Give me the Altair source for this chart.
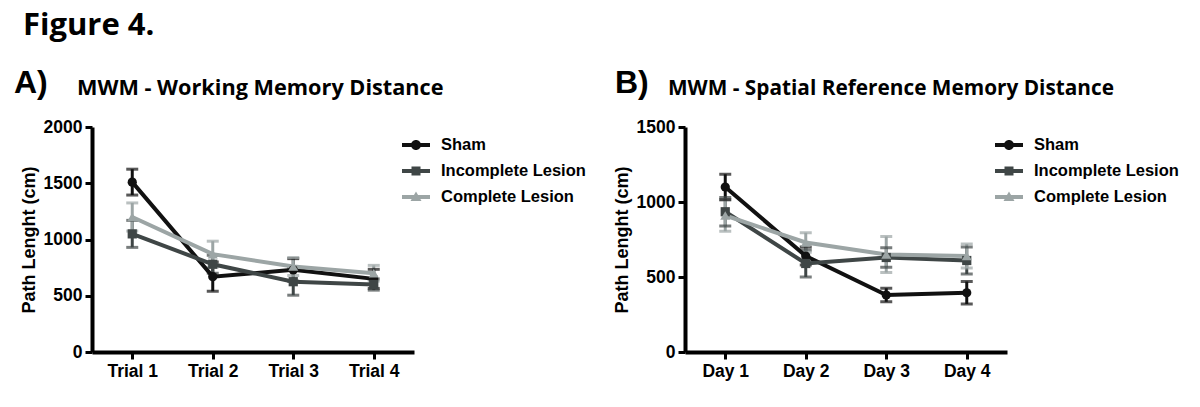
import altair as alt
import pandas as pd

series = ["Sham", "Incomplete Lesion", "Complete Lesion"]
colors = ["#111111", "#3f4646", "#9ca5a5"]

# Panel A - Working memory distance
trials = ["Trial 1", "Trial 2", "Trial 3", "Trial 4"]
wm_sham = [1510, 670, 730, 650]
wm_sham_sem = [115, 130, 100, 85]
wm_incomplete = [1050, 780, 625, 600]
wm_incomplete_sem = [120, 80, 120, 50]
wm_complete = [1200, 870, 760, 700]
wm_complete_sem = [125, 115, 80, 70]

# Panel B - Spatial reference memory distance
days = ["Day 1", "Day 2", "Day 3", "Day 4"]
srm_sham = [1100, 640, 380, 395]
srm_sham_sem = [85, 60, 45, 75]
srm_incomplete = [935, 590, 630, 610]
srm_incomplete_sem = [95, 90, 65, 90]
srm_complete = [910, 730, 650, 640]
srm_complete_sem = [105, 65, 120, 80]

wm_ticks = [0, 500, 1000, 1500, 2000]
srm_ticks = [0, 500, 1000, 1500]

# legend glyphs: line stub + marker (custom SVG paths)
legend_paths = [
    "M-1.4,-0.2H1.4V0.2H-1.4Z M0.5,0 A0.5,0.5 0 1,1 -0.5,0 A0.5,0.5 0 1,1 0.5,0Z",
    "M-1.4,-0.2H1.4V0.2H-1.4Z M-0.45,-0.45H0.45V0.45H-0.45Z",
    "M-1.4,-0.2H1.4V0.2H-1.4Z M0,-0.55L0.55,0.4H-0.55Z",
]


def build_df(cats, groups):
    rows = []
    for name, (means, sems) in zip(series, groups):
        for c, m, s in zip(cats, means, sems):
            rows.append({"x": c, "series": name, "mean": m, "lo": m - s, "hi": m + s})
    return pd.DataFrame(rows)


LABEL_FONT = "Liberation Sans"
TITLE_FONT = "Open Sans"

# drawing scales (different domain order than the legend scales, so their
# hidden legends do not merge with the visible one)
draw_domain = list(reversed(series))
draw_range = list(reversed(colors))


def panel(df, cats, ymax, yticks, title, letter, letter_x, title_x, title_size):
    base = alt.Chart(df)
    xenc = alt.X(
        "x:N",
        sort=cats,
        scale=alt.Scale(type="point", padding=0.5),
        axis=alt.Axis(title=None, labelAngle=0),
    )
    yscale = alt.Scale(domain=[0, ymax], nice=False, zero=True)
    yaxis = alt.Axis(title="Path Lenght (cm)", values=yticks, format="d", titlePadding=5)

    def Y(field):
        return alt.Y(field, scale=yscale, axis=yaxis)

    sscale = alt.Scale(domain=draw_domain, range=draw_range)
    stroke = alt.Stroke("series:N", scale=sscale, legend=None)
    fill = alt.Fill("series:N", scale=sscale, legend=None)

    rules = base.mark_rule(strokeWidth=3).encode(x=xenc, y=Y("lo:Q"), y2="hi:Q", stroke=stroke)
    cap_hi = base.mark_tick(size=12, thickness=3).encode(x=xenc, y=Y("hi:Q"), fill=fill)
    cap_lo = base.mark_tick(size=12, thickness=3).encode(x=xenc, y=Y("lo:Q"), fill=fill)
    line = base.mark_line(strokeWidth=4).encode(x=xenc, y=Y("mean:Q"), stroke=stroke)

    shapes = ["circle", "square", "triangle-up"]
    sizes = [85, 85, 100]
    pts = []
    for name, shp, sz in zip(series, shapes, sizes):
        pts.append(
            base.mark_point(filled=True, shape=shp, size=sz, strokeWidth=0).encode(
                x=xenc,
                y=Y("mean:Q"),
                fill=fill,
                opacity=alt.condition(f"datum.series == '{name}'", alt.value(1), alt.value(0)),
            )
        )

    leg = alt.Legend(
        title=None,
        orient="none",
        legendX=314,
        legendY=8,
        symbolSize=400,
        symbolStrokeWidth=0,
        symbolOpacity=1,
        labelFont=LABEL_FONT,
        labelFontWeight="bold",
        labelFontSize=16.5,
        labelColor="black",
        labelOffset=15,
        labelLimit=400,
        rowPadding=7,
        padding=0,
    )
    legend_layer = base.mark_point(filled=True, opacity=0, size=400).encode(
        x=xenc,
        y=Y("mean:Q"),
        color=alt.Color("series:N", scale=alt.Scale(domain=series, range=colors), legend=leg),
        shape=alt.Shape("series:N", scale=alt.Scale(domain=series, range=legend_paths), legend=leg),
    )

    labels = alt.Chart(pd.DataFrame({"letter": [letter], "title": [title]}))
    letter_layer = labels.mark_text(
        align="left", baseline="middle", font=LABEL_FONT, fontWeight="bold", fontSize=32, color="black"
    ).encode(text="letter:N", x=alt.value(letter_x), y=alt.value(-44))
    title_layer = labels.mark_text(
        align="left", baseline="alphabetic", font=TITLE_FONT, fontWeight="bold", fontSize=title_size, color="black"
    ).encode(text="title:N", x=alt.value(title_x), y=alt.value(-32))

    return alt.layer(
        rules, cap_hi, cap_lo, line, *pts, legend_layer, letter_layer, title_layer
    ).properties(width=322, height=225)


dfA = build_df(trials, [(wm_sham, wm_sham_sem), (wm_incomplete, wm_incomplete_sem), (wm_complete, wm_complete_sem)])
dfB = build_df(days, [(srm_sham, srm_sham_sem), (srm_incomplete, srm_incomplete_sem), (srm_complete, srm_complete_sem)])

chartA = panel(dfA, trials, 2000, wm_ticks, "MWM - Working Memory Distance", "A)", -78, -15, 21.7)
chartB = panel(dfB, days, 1500, srm_ticks, "MWM - Spatial Reference Memory Distance", "B)", -70, -17, 20.8)

chart = (
    alt.hconcat(chartA, chartB, spacing=27)
    .resolve_scale(color="independent", shape="independent", fill="independent", stroke="independent")
    .properties(
        title=alt.TitleParams(
            "Figure 4.",
            anchor="start",
            font=TITLE_FONT,
            fontSize=31,
            fontWeight="bold",
            color="black",
            baseline="alphabetic",
            dx=9,
            offset=1,
        ),
        padding={"left": 6, "top": 2, "right": 5, "bottom": 5},
        background="white",
    )
    .configure_view(stroke=None)
    .configure_axis(
        grid=False,
        domainColor="black",
        domainWidth=4,
        tickColor="black",
        tickWidth=3,
        tickSize=7,
        labelFont=LABEL_FONT,
        labelFontWeight="bold",
        labelFontSize=17.5,
        labelColor="black",
        labelPadding=3,
        titleFont=LABEL_FONT,
        titleFontWeight="bold",
        titleFontSize=18,
        titleColor="black",
    )
)

chart.save("out.html", embed_options={"renderer": "svg", "actions": False})
